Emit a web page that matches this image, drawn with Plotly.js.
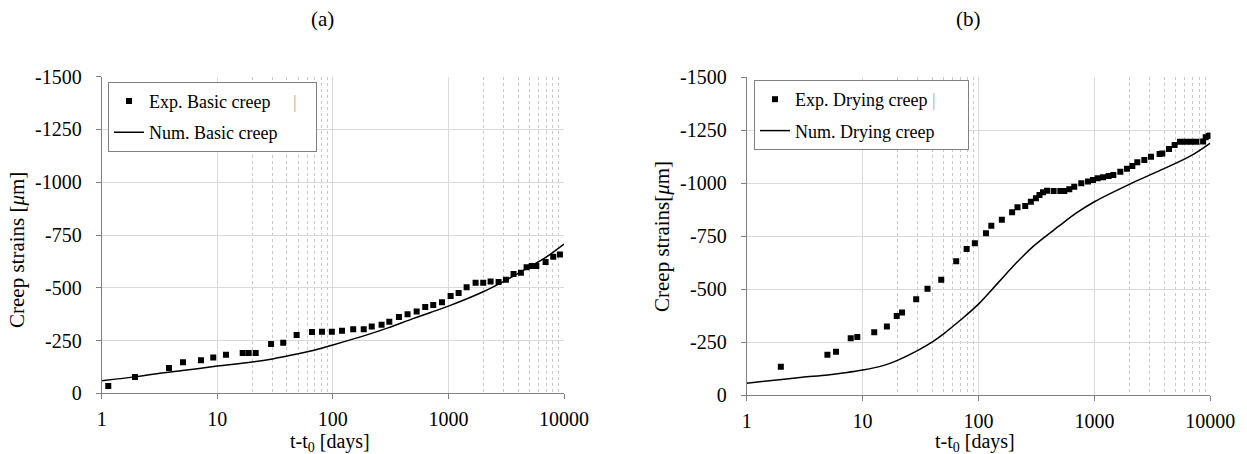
<!DOCTYPE html>
<html><head><meta charset="utf-8">
<script src="https://cdn.plot.ly/plotly-3.0.1.min.js"></script>
<style>html,body{margin:0;padding:0;background:#fff}#chart{width:1247px;height:454px}</style>
</head><body><div id="chart"></div>
<script>
// Panel (a): basic creep
const basicExpDays = [1.14,1.94,3.82,5.05,7.23,9.23,11.9,16.6,18.7,21.5,29.2,37.2,48.6,66,80.5,98,120,150,185,217,264,308,373,443,531,630,739,879,1045,1225,1437,1718,2000,2317,2717,3142,3661,4237,4745,5255,5760,6930,8070,9220];
const basicExpStrain = [-35,-77,-120,-147,-156,-170,-183,-191,-191,-191,-233,-240,-276,-291,-292,-292,-296,-304,-304,-317,-325,-339,-361,-375,-388,-409,-418,-431,-461,-475,-502,-524,-524,-530,-527,-538,-565,-571,-597,-603,-603,-622,-647,-658];
const basicNumDays = [1,2,3,5,7,10,20,30,50,70,100,200,300,500,700,1000,2000,3000,5000,7000,10000];
const basicNumStrain = [-60,-79,-93,-108,-118,-129,-148,-163,-187,-205,-229,-278,-310,-355,-383,-413,-481,-530,-598,-645,-707];
// Panel (b): drying creep
const dryExpDays = [1.97,4.97,5.9,7.9,9.0,12.6,16.2,19.7,21.9,29,36.3,47.7,64.2,79,93,116,129,159,195,217,253,283,313,336,360,390,445,508,550,607,670,771,881,972,1066,1187,1327,1457,1674,1912,2125,2345,2697,3079,3653,3855,4403,4923,5478,6122,6820,7585,8670,9125,9685,9950];
const dryExpStrain = [-135,-191,-206,-269,-275,-297,-325,-374,-390,-453,-503,-545,-632,-690,-717,-764,-800,-828,-863,-887,-893,-913,-929,-945,-958,-965,-964,-964,-964,-972,-984,-1000,-1008,-1016,-1024,-1028,-1034,-1039,-1055,-1069,-1082,-1099,-1110,-1125,-1138,-1140,-1162,-1181,-1196,-1196,-1196,-1196,-1197,-1217,-1223,-1226];
const dryNumDays = [1,2,3,5,7,10,15,20,30,40,50,70,100,150,200,300,500,700,1000,2000,3500,6700,10000];
const dryNumStrain = [-57,-75,-85,-96,-106,-119,-140,-165,-212,-252,-290,-355,-430,-535,-610,-705,-800,-860,-913,-995,-1055,-1128,-1190];
// Axes
const xTickVals = [1,10,100,1000,10000];
const xTickText = ['1','10','100','1000','10000'];
const xMinorVals = [20,30,40,50,60,70,80,90,2000,3000,4000,5000,6000,7000,8000,9000];
const yTickVals = [0,-250,-500,-750,-1000,-1250,-1500];
const yTickText = ['0','-250','-500','-750','-1000','-1250','-1500'];

const FONT = 'Liberation Serif, Times New Roman, serif';
const nb = '\u00a0';
const bar = '<span style="color:#a6a6a6">|</span>';

const traces = [
  {x: basicExpDays, y: basicExpStrain, type:'scatter', mode:'markers', name:'Exp. Basic creep' + nb.repeat(5) + bar + nb.repeat(3),
   marker:{symbol:'square', size:6, color:'#000'}, xaxis:'x', yaxis:'y', legend:'legend', legendgroup:'a1'},
  {x: basicNumDays, y: basicNumStrain, type:'scatter', mode:'lines', name:'Num. Basic creep',
   line:{color:'#000', width:1.5, shape:'spline'}, xaxis:'x', yaxis:'y', legend:'legend', legendgroup:'a2'},
  {x: dryExpDays, y: dryExpStrain, type:'scatter', mode:'markers', name:'Exp. Drying creep' + nb + bar + nb.repeat(6),
   marker:{symbol:'square', size:6, color:'#000'}, xaxis:'x2', yaxis:'y2', legend:'legend2', legendgroup:'b1'},
  {x: dryNumDays, y: dryNumStrain, type:'scatter', mode:'lines', name:'Num. Drying creep',
   line:{color:'#000', width:1.5, shape:'spline'}, xaxis:'x2', yaxis:'y2', legend:'legend2', legendgroup:'b2'}
];

function xAxis(domain, anchor){
  return {type:'log', range:[0,4], domain:domain, anchor:anchor, tickmode:'array', tickvals:xTickVals, ticktext:xTickText,
    showgrid:true, gridcolor:'#d9d9d9', gridwidth:1, showline:true, linecolor:'#808080', linewidth:1,
    ticks:'outside', ticklen:5, tickcolor:'#808080', zeroline:false, ticklabelstandoff:3,
    tickfont:{family:FONT, size:20, color:'#000'},
    minor:{tickmode:'array', tickvals:xMinorVals, showgrid:true, gridcolor:'#c8c8c8', griddash:'dot', gridwidth:1, ticks:''}};
}
function yAxis(domain, anchor){
  return {range:[0,-1500], domain:domain, anchor:anchor, tickmode:'array', tickvals:yTickVals, ticktext:yTickText,
    showgrid:true, gridcolor:'#d9d9d9', gridwidth:1, showline:true, linecolor:'#808080', linewidth:1,
    ticks:'outside', ticklen:5, tickcolor:'#808080', zeroline:false, ticklabelstandoff:10,
    tickfont:{family:FONT, size:20, color:'#000'}};
}
const legendCommon = {bgcolor:'#fff', bordercolor:'#808080', borderwidth:1, font:{family:FONT, size:18, color:'#000'},
  xanchor:'left', yanchor:'top', tracegroupgap:5, traceorder:'grouped'};

function ann(text, px, py, extra){
  return Object.assign({text:text, x:px/1247, y:(454-py)/454, xref:'paper', yref:'paper', xanchor:'center', yanchor:'middle',
    showarrow:false, font:{family:FONT, size:21, color:'#000'}}, extra || {});
}

const layout = {
  width:1247, height:454, margin:{l:0,r:0,t:0,b:0}, paper_bgcolor:'#fff', plot_bgcolor:'#fff', showlegend:true,
  font:{family:FONT, color:'#000'},
  xaxis: xAxis([101.7/1247, 564/1247], 'y'),
  yaxis: yAxis([(454-393.3)/454, (454-76.7)/454], 'x'),
  xaxis2: xAxis([746.7/1247, 1210.3/1247], 'y2'),
  yaxis2: yAxis([(454-395.3)/454, (454-77.3)/454], 'x2'),
  legend: Object.assign({x:108/1247, y:(454-81.7)/454}, legendCommon),
  legend2: Object.assign({x:754/1247, y:(454-80)/454}, legendCommon),
  annotations: [
    ann('(a)', 322, 19),
    ann('(b)', 968, 19),
    ann('t-t<sub>0</sub> [days]', 330, 442, {font:{family:FONT, size:20, color:'#000'}}),
    ann('t-t<sub>0</sub> [days]', 975, 442, {font:{family:FONT, size:20, color:'#000'}}),
    ann('Creep strains [<i>μ</i>m]', 17, 250, {textangle:-90}),
    ann('Creep strains[<i>μ</i>m]', 662, 237, {textangle:-90})
  ]
};
Plotly.newPlot('chart', traces, layout, {staticPlot:true, displayModeBar:false});
</script></body></html>
